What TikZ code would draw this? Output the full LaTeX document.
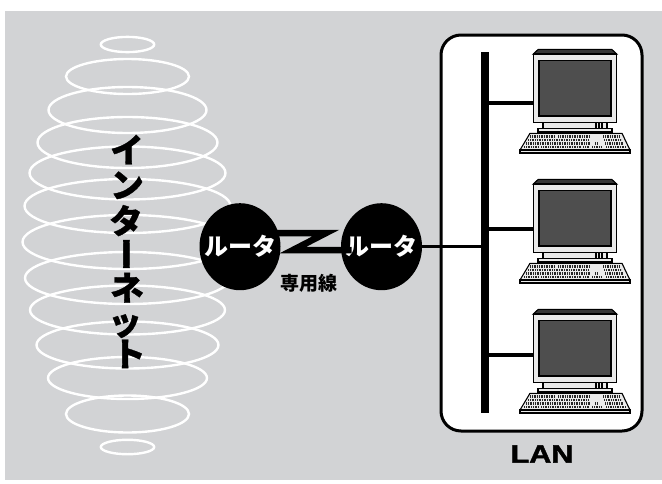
\documentclass[tikz,border=0pt]{standalone}
\usepackage{fontspec}
\setmainfont{Liberation Sans}
\newfontfamily\jpfont{Noto Sans CJK JP}
\newfontfamily\jpheavy[BoldFeatures={FakeBold=1}]{Noto Sans CJK JP}
\newfontfamily\lanfont[BoldFeatures={FakeBold=1.6}]{Liberation Sans}
\usetikzlibrary{shapes.geometric}

\definecolor{bggray}{RGB}{210,211,213}
\definecolor{screengray}{RGB}{78,78,78}
\definecolor{casing}{RGB}{234,234,234}
\definecolor{bevel}{RGB}{55,55,55}

\tikzset{
  ring/.style={draw=white, line width=2.4pt},
  router/.style={ellipse, fill=black, minimum width=81pt, minimum height=87pt,
    inner sep=0pt, text=white, font=\jpfont\bfseries\fontsize{24}{24}\selectfont},
  vchar/.style={inner sep=0pt, text height=25pt, text depth=0pt,
    font=\jpheavy\bfseries\fontsize{33.5}{33.5}\selectfont},
  zline/.style={line width=6.5pt, line join=miter, miter limit=10},
  wire/.style={line width=3.4pt},
  busline/.style={line width=8pt},
  lanbox/.style={draw=black, fill=white, line width=3pt, rounded corners=20pt},
  outl/.style={draw=black, line width=1.1pt},
  keyrow/.style={draw=black!85, line width=2.6pt, dash pattern=on 0.9pt off 0.8pt},
  computer/.pic={
    % monitor top bevel
    \filldraw[outl, fill=bevel] (0,0) -- (5,-4.7) -- (78.4,-4.7) -- (83.4,0) -- cycle;
    % monitor casing and screen
    \filldraw[outl, fill=casing] (0,0) rectangle (83.4,68.7);
    \filldraw[outl, fill=screengray] (5.7,6.7) rectangle (77.7,62);
    % neck with vent slots
    \filldraw[outl, fill=casing] (9.7,68.7) rectangle (73.7,74.3);
    \foreach \i in {0,...,5} \draw[line width=0.6pt] (62+\i*1.4,69.4) -- ++(0,4.4);
    % base plate
    \filldraw[outl, fill=casing] (4.7,74.3) rectangle (78.7,78);
    % keyboard
    \filldraw[outl, fill=casing] (-3.3,79.3) -- (88.7,79.3) -- (96.7,96) -- (-13.3,96) -- cycle;
    \filldraw[outl, fill=casing] (-13.3,96) rectangle (96.7,99);
    \draw[keyrow] (-3,82.2) -- (22,82.2) (25,82.2) -- (56,82.2) (70,82.2) -- (86,82.2);
    \draw[keyrow] (-5,85.8) -- (56,85.8) (71,85.8) -- (88,85.8);
    \draw[keyrow] (-7,89.4) -- (56,89.4) (62,89.4) -- (65,89.4) (72,89.4) -- (90,89.4);
    \draw[keyrow] (-9,93) -- (6,93) (8,93) -- (48,93) (50,93) -- (56,93) (59,93) -- (68,93) (73,93) -- (92,93);
    \coordinate (-left) at (0,0);
  }
}

\begin{document}
\begin{tikzpicture}[x=1pt, y=-1pt]
  \useasboundingbox (0,0) rectangle (662,483);
  \fill[white] (0,0) rectangle (662,483);
  \fill[bggray] (5,11) rectangle (662,480);

  % the Internet as stacked rings
  \foreach \cy/\rx/\ry in {44.5/26.7/7.6, 76.5/61.5/17.5, 110/79/23, 142.5/90/25.5,
      173/98/26.5, 206/103/27, 242/105/27, 278/102.5/26, 310/97.5/24.5,
      345/91/23.5, 378/79.5/21, 414/61.5/18.5, 447/26.7/7.2}
    \draw[ring] (127.5,\cy) ellipse [x radius=\rx, y radius=\ry];

  % vertical label
  \node[vchar] (ch1) at (127,150) {イ};
  \node[vchar] (ch2) at (127,185) {ン};
  \node[vchar] (ch3) at (126,221) {タ};
  \node[vchar, rotate=-90] (ch4) at (126,254) {ー};
  \node[vchar] (ch5) at (127,288) {ネ};
  \node[vchar] (ch6) at (125,322) {ッ};
  \node[vchar] (ch7) at (129,354) {ト};

  % LAN enclosure
  \draw[lanbox] (441,35) rectangle (642,431);
  \node[font=\lanfont\bfseries\fontsize{25}{25}\selectfont] (lan) at (542,454) {\scalebox{1.22}[1]{LAN}};

  % routers and the leased line
  \node[router] (r1) at (240,246.7) {\makebox[0pt]{ルータ}};
  \node[router] (r2) at (381.5,246.7) {\makebox[0pt]{ルータ}};
  \draw[zline] ([shift={(30,-13.7)}]r1.center) -- (326,233) -- (293,250)
    -- ([shift={(-30,3.3)}]r2.center);
  \node[font=\jpfont\bfseries\fontsize{19}{19}\selectfont, inner sep=0pt] (leased) at (309,283) {専用線};

  % backbone
  \coordinate (busTop) at (485,52);
  \coordinate (busBot) at (485,413);
  \draw[busline] (busTop) -- (busBot);
  \draw[wire] (r2.east) -- (r2.east -| busTop);

  % workstations
  \pic (pc1) at (533.3,54) {computer};
  \pic (pc2) at (533.3,184) {computer};
  \pic (pc3) at (533.3,314) {computer};
  \coordinate (tap1) at (485,103);
  \coordinate (tap2) at (485,229);
  \coordinate (tap3) at (485,355);
  \draw[wire] (tap1) -- (tap1 -| pc1-left);
  \draw[wire] (tap2) -- (tap2 -| pc2-left);
  \draw[wire] (tap3) -- (tap3 -| pc3-left);
\end{tikzpicture}
\end{document}
